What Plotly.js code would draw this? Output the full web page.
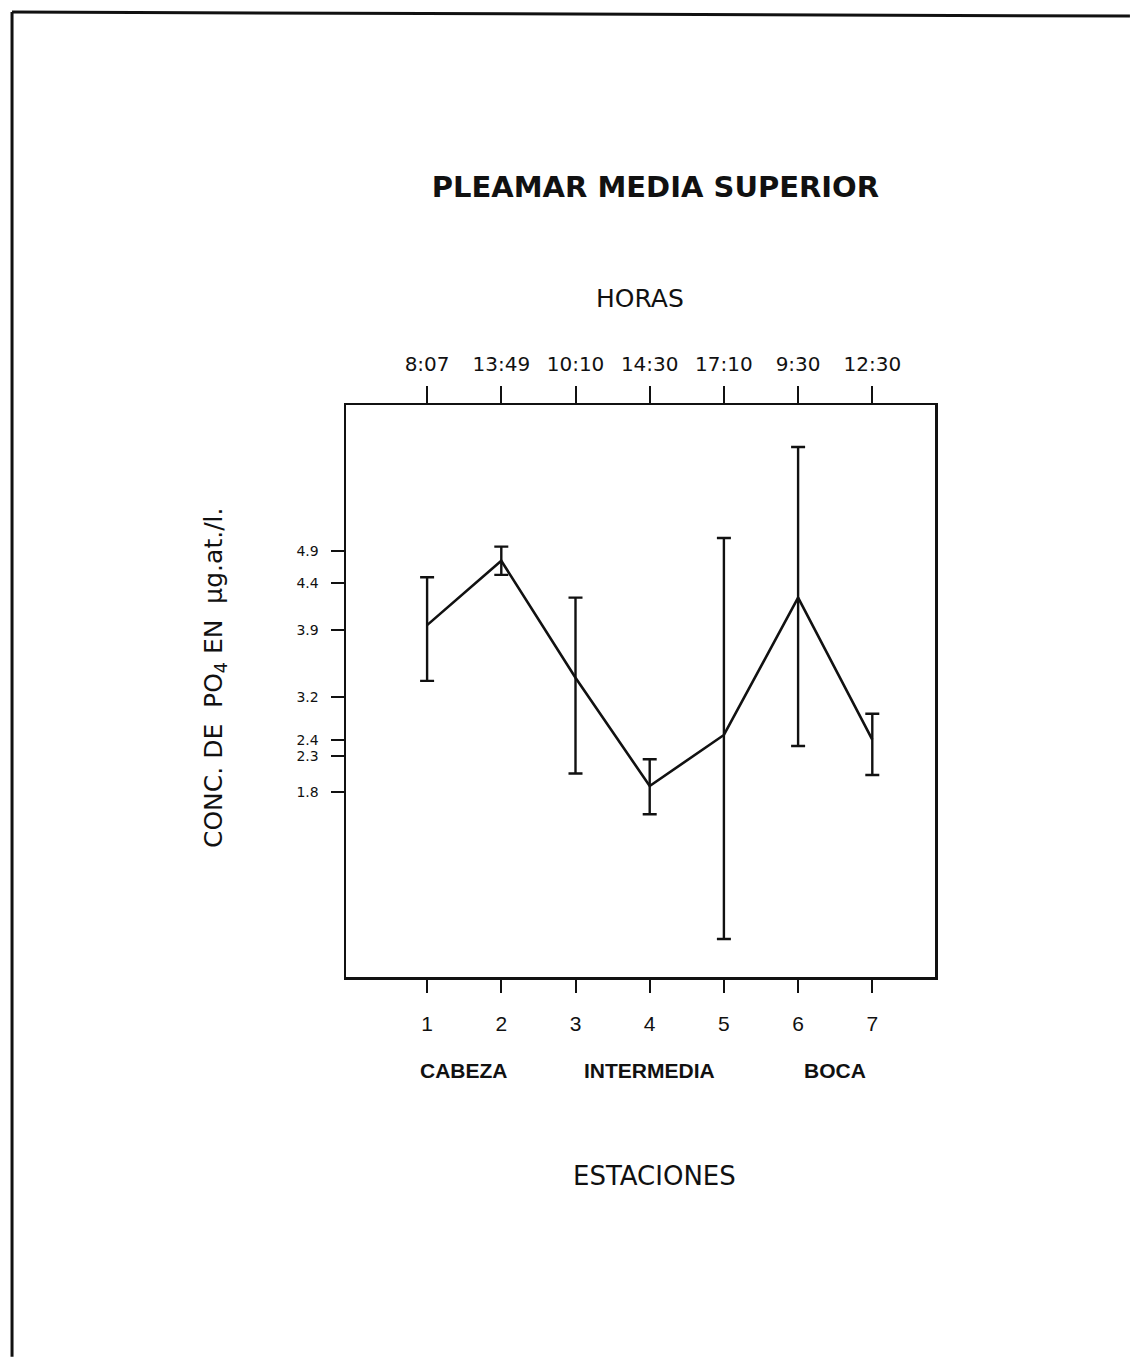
<!DOCTYPE html>
<html>
<head>
<meta charset="utf-8">
<script src="https://cdn.plot.ly/plotly-3.0.1.min.js"></script>
<style>html,body{margin:0;padding:0;background:#fff;}#chart{width:1130px;height:1357px;}</style>
</head>
<body>
<div id="chart"></div>
<script>
// ---- data ----
const estaciones = [1, 2, 3, 4, 5, 6, 7];
const estacionLabels = ["1", "2", "3", "4", "5", "6", "7"];
const horas = ["8:07", "13:49", "10:10", "14:30", "17:10", "9:30", "12:30"];
const concMedia = [3.95, 4.77, 3.28, 1.90, 2.55, 4.30, 2.49];
const errorArriba = [0.61, 0.18, 1.02, 0.34, 2.51, 1.92, 0.33];
const errorAbajo = [0.71, 0.18, 1.22, 0.36, 2.60, 1.89, 0.45];
const yTickVals = [4.895, 4.487, 3.888, 3.034, 2.486, 2.282, 1.823];
const yTickText = ["4.9", "4.4", "3.9", "3.2", "2.4", "2.3", "1.8"];
const zonas = ["CABEZA", "INTERMEDIA", "BOCA"];
const zonaPos = [1.5, 4, 6.5];

const ink = "#111";
const font = "Liberation Sans, Arial, sans-serif";
const fontWide = "DejaVu Sans, Liberation Sans, sans-serif";

const traces = [
  {
    x: estaciones, y: concMedia, type: "scatter", mode: "lines",
    line: {color: ink, width: 2.6},
    error_y: {type: "data", symmetric: false, array: errorArriba, arrayminus: errorAbajo,
              color: ink, thickness: 2.4, width: 7},
    hoverinfo: "skip", showlegend: false
  },
  {
    x: estaciones, y: concMedia, xaxis: "x2", type: "scatter", mode: "lines",
    line: {color: "rgba(0,0,0,0)", width: 0}, hoverinfo: "skip", showlegend: false
  }
];

const annotations = zonas.map((z, i) => ({
  text: z, xref: "x", yref: "paper", x: zonaPos[i], y: -0.164,
  xanchor: "center", yanchor: "middle", showarrow: false,
  font: {family: font, size: 21, color: ink, weight: "bold"}
}));
annotations.push(
  {text: "ESTACIONES", xref: "paper", yref: "paper", x: 0.523, y: -0.348,
   xanchor: "center", yanchor: "middle", showarrow: false,
   font: {family: fontWide, size: 26, color: ink}},
  {text: "HORAS", xref: "paper", yref: "paper", x: 0.499, y: 1.187,
   xanchor: "center", yanchor: "middle", showarrow: false,
   font: {family: fontWide, size: 25, color: ink}},
  {text: "CONC. DE  PO<sub>4</sub> EN  µg.at./l.", xref: "paper", yref: "paper",
   x: -0.2224, y: 0.5227, textangle: -90, xanchor: "center", yanchor: "middle",
   showarrow: false, font: {family: fontWide, size: 25, color: ink}}
);

const xRange = [-0.093, 7.845];

const layout = {
  width: 1130, height: 1357,
  margin: {l: 346, r: 195, t: 405, b: 380},
  paper_bgcolor: "#fff", plot_bgcolor: "#fff",
  title: {text: "PLEAMAR MEDIA SUPERIOR", x: 0.58, y: 0.862, xanchor: "center", yanchor: "middle",
          font: {family: fontWide, size: 29, color: ink, weight: "bold"}},
  font: {family: font, color: ink},
  xaxis: {
    range: xRange, tickvals: estaciones, ticktext: estacionLabels,
    ticks: "outside", ticklen: 13, tickwidth: 2, tickcolor: ink,
    showline: true, mirror: true, linewidth: 2.5, linecolor: ink,
    showgrid: false, zeroline: false, ticklabelstandoff: 13,
    tickfont: {family: font, size: 21, color: ink}
  },
  xaxis2: {
    range: xRange, overlaying: "x", side: "top", anchor: "y",
    tickvals: estaciones, ticktext: horas,
    ticks: "outside", ticklen: 18, tickwidth: 2, tickcolor: ink,
    showline: false, showgrid: false, zeroline: false, ticklabelstandoff: 7,
    tickfont: {family: fontWide, size: 20, color: ink}
  },
  yaxis: {
    range: [-0.534, 6.755], tickvals: yTickVals, ticktext: yTickText,
    ticks: "outside", ticklen: 13, tickwidth: 2, tickcolor: ink,
    showline: true, mirror: true, linewidth: 2.5, linecolor: ink,
    showgrid: false, zeroline: false, ticklabelstandoff: 9,
    tickfont: {family: fontWide, size: 14, color: ink}
  },
  annotations: annotations,
  shapes: [
    {type: "line", xref: "paper", yref: "paper", x0: -0.567, x1: 1.331, y0: 1.687, y1: 1.680,
     line: {color: ink, width: 3}},
    {type: "line", xref: "paper", yref: "paper", x0: -0.567, x1: -0.567, y0: 1.687, y1: -0.664,
     line: {color: ink, width: 3}}
  ],
  showlegend: false
};

Plotly.newPlot("chart", traces, layout, {staticPlot: true});
</script>
</body>
</html>
